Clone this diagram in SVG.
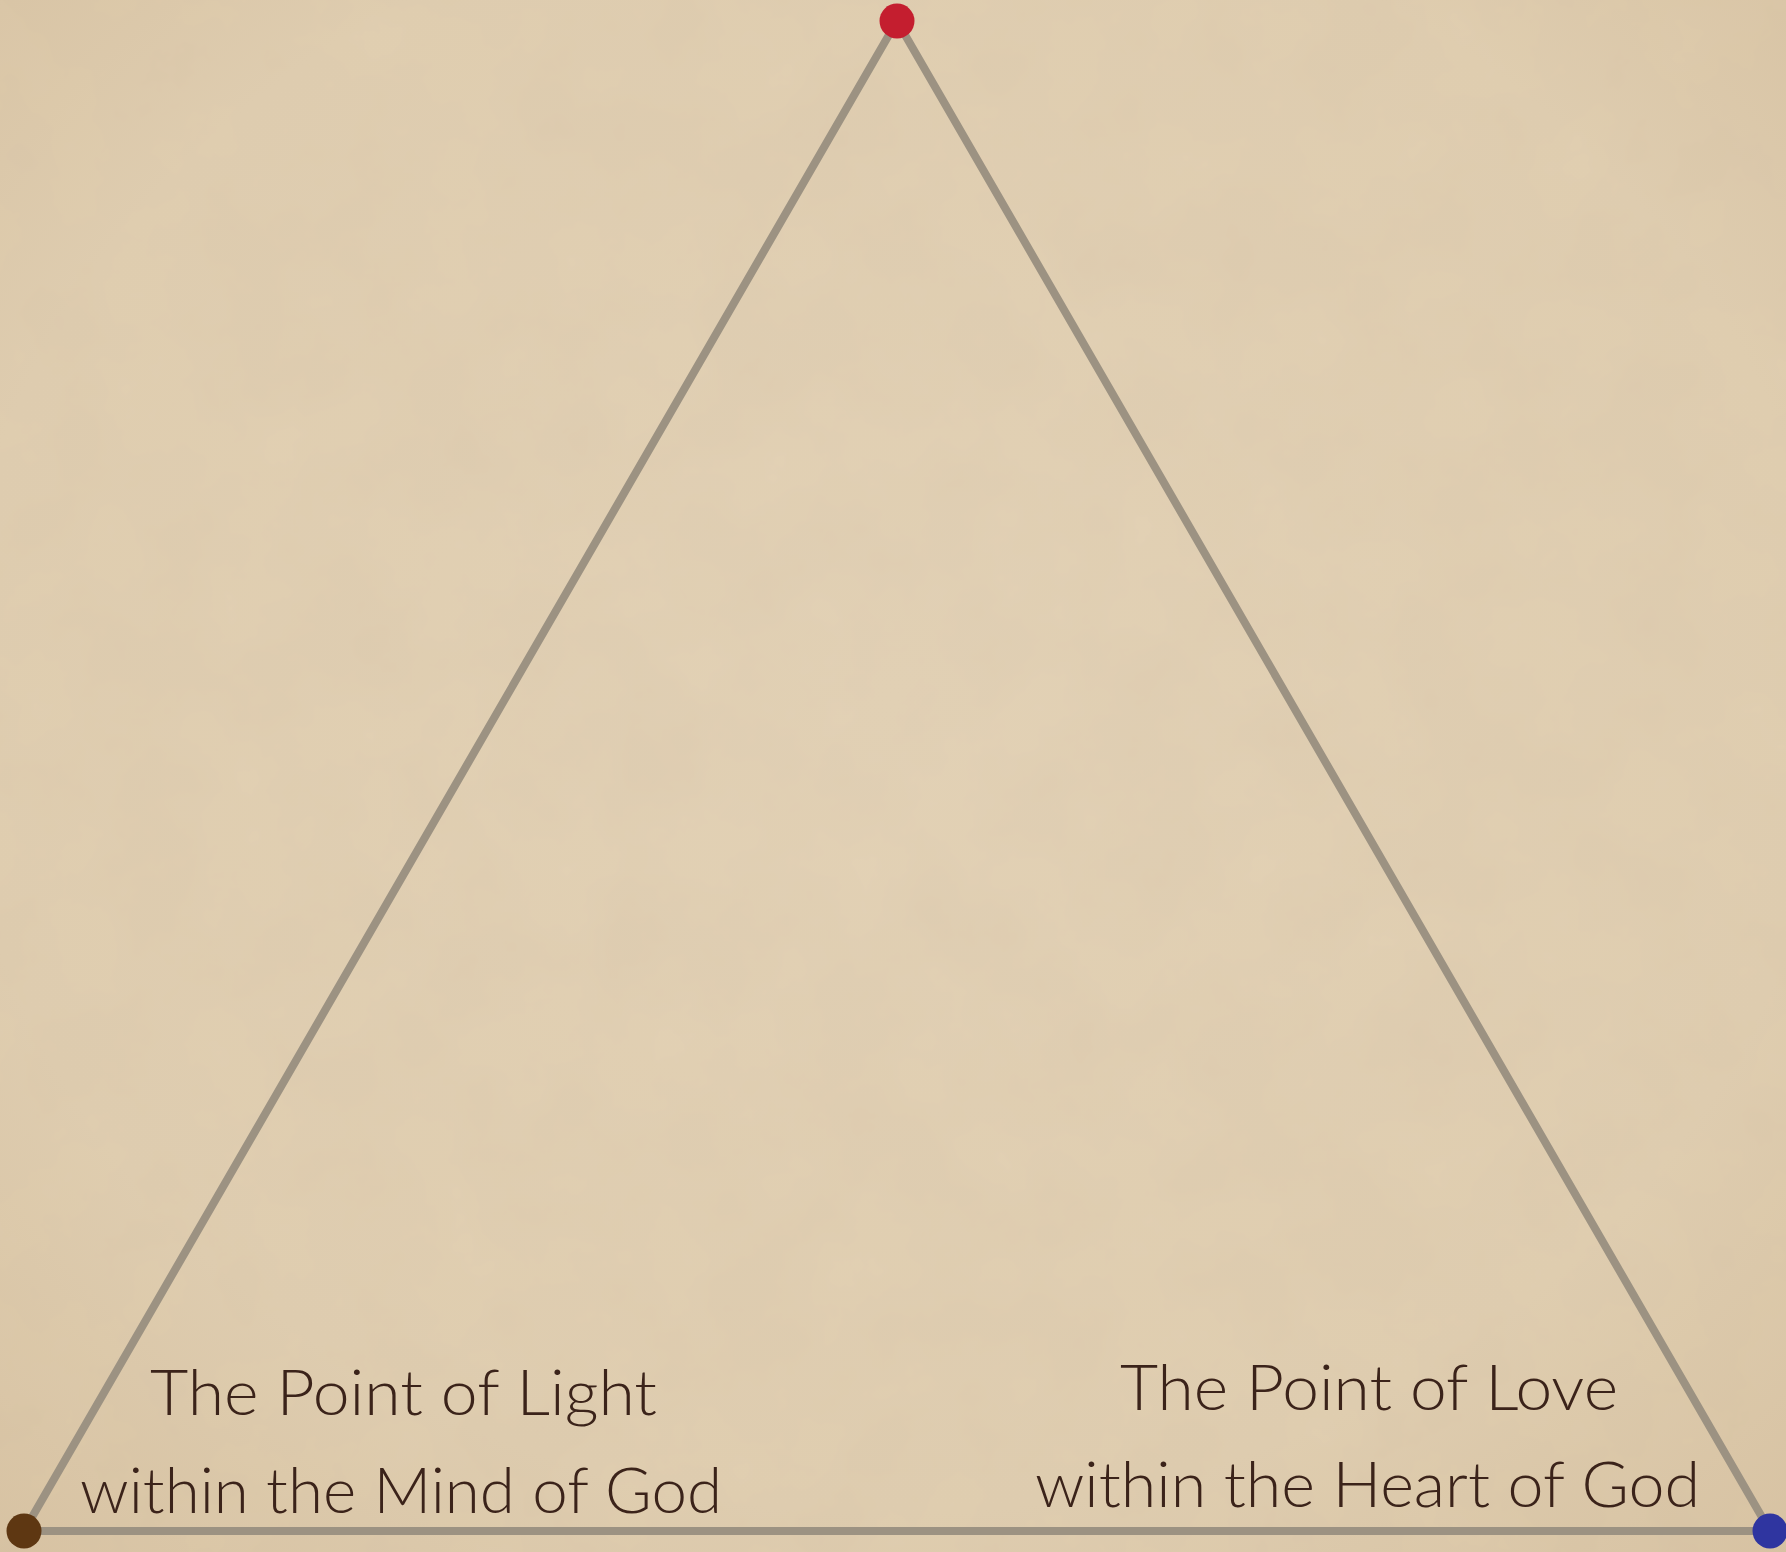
<svg xmlns="http://www.w3.org/2000/svg" width="1786" height="1552" viewBox="0 0 1786 1552">
  <defs>
    <radialGradient id="bg" cx="50%" cy="45%" r="75%">
      <stop offset="0" stop-color="#e3d2b6"/>
      <stop offset="0.7" stop-color="#e0ceb0"/>
      <stop offset="1" stop-color="#d8c3a2"/>
    </radialGradient>
    <filter id="grain" x="0" y="0" width="100%" height="100%">
      <feTurbulence type="fractalNoise" baseFrequency="0.01" numOctaves="5" seed="7" result="n"/>
      <feColorMatrix in="n" type="matrix" values="0 0 0 0 0.6  0 0 0 0 0.48  0 0 0 0 0.36  0 0 0 0.22 -0.02"/>
    </filter>
    <style>
      .edge { stroke: #9c9282; stroke-width: 8; fill: none; stroke-linecap: round; }
      .label { font-family: "Lato", "Open Sans", "Liberation Sans", sans-serif; font-weight: 300; font-size: 64px; fill: #3b231a; text-anchor: middle; }
    </style>
  </defs>
  <rect width="1786" height="1552" fill="url(#bg)"/>
  <rect width="1786" height="1552" filter="url(#grain)"/>

  <g id="connectors">
    <line class="edge" x1="897" y1="21" x2="24" y2="1531"/>
    <line class="edge" x1="897" y1="21" x2="1770" y2="1531"/>
    <line class="edge" x1="24" y1="1531" x2="1770" y2="1531"/>
  </g>

  <g id="node-top">
    <circle cx="897" cy="21" r="17.5" fill="#c41e2f"/>
  </g>
  <g id="node-left">
    <circle cx="24" cy="1531" r="17.5" fill="#5e3712"/>
    <text class="label" x="403.5" y="1415" textLength="507" lengthAdjust="spacingAndGlyphs">The Point of Light</text>
    <text class="label" x="401" y="1513" textLength="642" lengthAdjust="spacingAndGlyphs">within the Mind of God</text>
  </g>
  <g id="node-right">
    <circle cx="1770" cy="1531" r="17.5" fill="#2f35a0"/>
    <text class="label" x="1369" y="1410" textLength="498" lengthAdjust="spacingAndGlyphs">The Point of Love</text>
    <text class="label" x="1367.5" y="1507" textLength="665" lengthAdjust="spacingAndGlyphs">within the Heart of God</text>
  </g>
</svg>
